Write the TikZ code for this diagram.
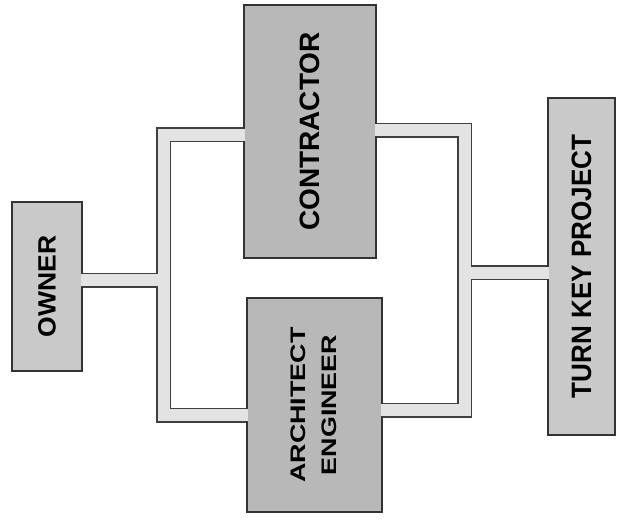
\documentclass[tikz,border=0pt]{standalone}
\usepackage{fontspec}
\setsansfont{Liberation Sans}
\usepackage{graphicx}
\newcommand{\vlab}[3]{\rotatebox{90}{\scalebox{#1}[1]{\fontsize{#2pt}{31pt}\selectfont #3}}}

\begin{document}
\begin{tikzpicture}[
  x=1pt, y=-1pt,
  font=\sffamily\bfseries,
  box/.style={draw=black!80, line width=1.2pt, inner sep=0pt},
  darkbox/.style={box, fill=black!28},
  lightbox/.style={box, fill=black!21},
  barout/.style={line width=15pt, draw=black!75, line join=miter},
  barin/.style={line width=12pt, draw=black!11, line join=miter, shorten <=-1.5pt, shorten >=-1.5pt}
]
\useasboundingbox (0,0) rectangle (618,523);
% ---------- boxes ----------
\node[lightbox, minimum width=70pt, minimum height=169pt] (own) at (47,286.5) {\vlab{1.06}{25}{OWNER}};
\node[darkbox, minimum width=132pt, minimum height=253pt] (con) at (310,131.5) {\vlab{1.0}{28}{CONTRACTOR}};
\node[darkbox, minimum width=135pt, minimum height=214pt] (arc) at (314.5,405) {\vlab{1.28}{21}{\begin{tabular}{@{}c@{}}ARCHITECT\\ENGINEER\end{tabular}}};
\node[lightbox, minimum width=67pt, minimum height=337pt] (tkp) at (581.5,266.5) {\vlab{0.93}{28}{TURN KEY PROJECT}};
% ---------- junctions ----------
\coordinate (lj) at (163.5,280);
\coordinate (lt) at (163.5,134.5);
\coordinate (lb) at (163.5,415);
\coordinate (rt) at (464.5,130);
\coordinate (rj) at (464.5,272.5);
\coordinate (rb) at (464.5,410);
% ---------- bars: outline first, then fill ----------
\foreach \s in {barout,barin}{
  \draw[\s] (own.east |- lj) -- (lj);
  \draw[\s] (con.west |- lt) -- (lt) -- (lb) -- (arc.west |- lb);
  \draw[\s] (con.east |- rt) -- (rt) -- (rb) -- (arc.east |- rb);
  \draw[\s] (rj) -- (tkp.west |- rj);
}
\end{tikzpicture}
\end{document}
